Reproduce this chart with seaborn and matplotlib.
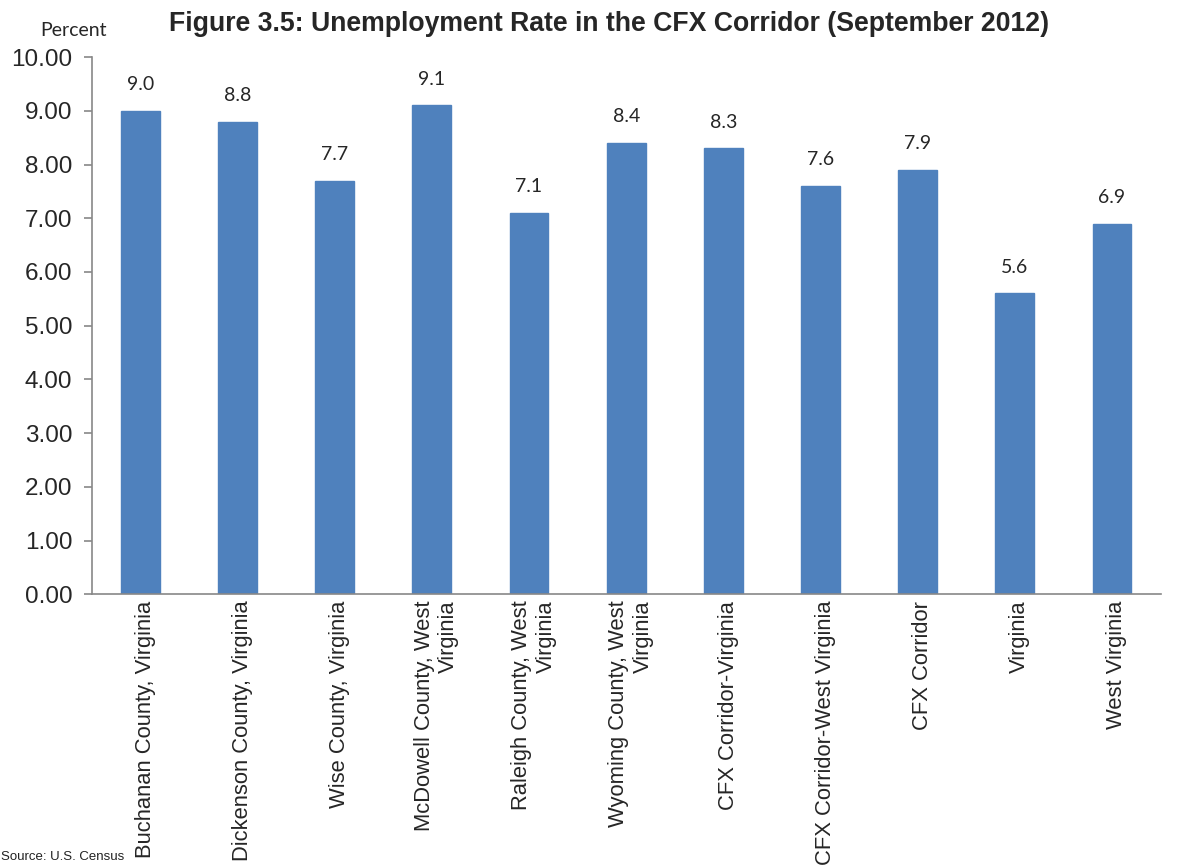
import matplotlib
matplotlib.use("Agg")
import matplotlib.pyplot as plt
import seaborn as sns
import pandas as pd
from matplotlib.ticker import FixedLocator, FormatStrFormatter

areas = [
    "Buchanan County, Virginia",
    "Dickenson County, Virginia",
    "Wise County, Virginia",
    "McDowell County, West\nVirginia",
    "Raleigh County, West\nVirginia",
    "Wyoming County, West\nVirginia",
    "CFX Corridor-Virginia",
    "CFX Corridor-West Virginia",
    "CFX Corridor",
    "Virginia",
    "West Virginia",
]
rates = [9.0, 8.8, 7.7, 9.1, 7.1, 8.4, 8.3, 7.6, 7.9, 5.6, 6.9]
y_ticks = [0, 1, 2, 3, 4, 5, 6, 7, 8, 9, 10]

sns.set_style("white")
plt.rcParams["font.family"] = ["Liberation Sans", "DejaVu Sans"]

df = pd.DataFrame({"area": areas, "rate": rates})

fig = plt.figure(figsize=(11.77, 8.65), dpi=100)
ax = fig.add_axes([0.078, 0.313, 0.908, 0.621])

sns.barplot(data=df, x="area", y="rate", color="#4F81BD", saturation=1,
            width=0.4, ax=ax, edgecolor="#4F81BD")

ax.set_xlim(-0.5, len(areas) - 0.5)
ax.set_ylim(0, 10)
ax.yaxis.set_major_locator(FixedLocator(y_ticks))
ax.yaxis.set_major_formatter(FormatStrFormatter("%.2f"))

# bar value labels
for i, v in enumerate(rates):
    ax.text(i, v + 0.33, f"{v:.1f}", ha="center", va="bottom",
            fontsize=14, family=["Lato", "DejaVu Sans"])

# category labels (rotated) with ticks between categories
ax.set_xticks([i for i in range(len(areas))])
ax.set_xticklabels([])
ax.tick_params(axis="x", which="major", length=0)
ax.set_xticks([i - 0.5 for i in range(len(areas) + 1)], minor=True)
ax.tick_params(axis="x", which="minor", length=6, width=1.2, color="#888888",
               direction="out")
for i, lab in enumerate(areas):
    ax.text(i + 0.05, -0.12, lab, rotation=90, ha="center", va="top",
            multialignment="right", fontsize=15.8, linespacing=1.2,
            transform=ax.transData)

ax.tick_params(axis="y", length=6, width=1.2, color="#888888", direction="out",
               labelsize=17.5, pad=8, left=True)

for s in ["top", "right"]:
    ax.spines[s].set_visible(False)
for s in ["left", "bottom"]:
    ax.spines[s].set_color("#888888")
    ax.spines[s].set_linewidth(1.2)

ax.set_xlabel("")
ax.set_ylabel("")

fig.text(0.5175, 0.972, "Figure 3.5: Unemployment Rate in the CFX Corridor (September 2012)",
         ha="center", va="center", fontsize=19.2, fontweight="bold")
fig.text(0.0625, 0.965, "Percent", ha="center", va="center", fontsize=14,
         family=["Lato", "DejaVu Sans"])
fig.text(0.001, 0.002, "Source: U.S. Census", ha="left", va="bottom",
         fontsize=9.5, color="#222222")

fig.savefig("out.png", dpi=100)
